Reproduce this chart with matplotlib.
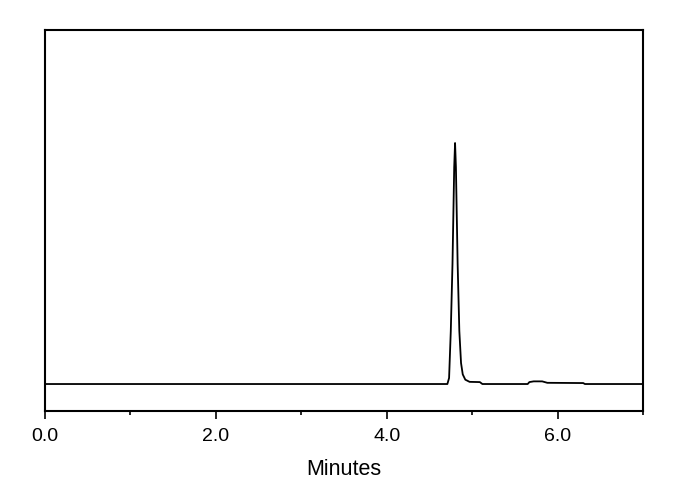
import matplotlib
matplotlib.use("Agg")
import matplotlib.pyplot as plt
from matplotlib.ticker import FixedLocator

# chromatogram trace (signal scaled so peak = 100)
time_min = [0.0, 4.71, 4.73, 4.75, 4.77, 4.79, 4.80, 4.81, 4.83, 4.85, 4.87,
            4.89, 4.92, 4.97, 5.09, 5.12, 5.65, 5.67, 5.72, 5.82, 5.88, 6.30,
            6.32, 7.0]
signal = [0.0, 0.0, 2.5, 22.0, 50.0, 90.0, 100.0, 90.0, 50.0, 22.0, 8.7,
          4.0, 1.8, 0.9, 0.8, 0.0, 0.0, 0.8, 1.1, 1.1, 0.5, 0.4,
          0.0, 0.0]

major_ticks = [0, 2, 4, 6]
minor_ticks = [1, 3, 5, 7]
tick_labels = ["0.0", "2.0", "4.0", "6.0"]

plt.rcParams['font.family'] = ['Liberation Sans', 'DejaVu Sans']

fig = plt.figure(figsize=(6.9, 4.9), dpi=100)
ax = fig.add_axes([0.0652, 0.1612, 0.8667, 0.7776])

ax.plot(time_min, signal, color="black", linewidth=1.3)

ax.set_xlim(0, 7)
ax.set_ylim(-11.2, 146.9)

ax.xaxis.set_major_locator(FixedLocator(major_ticks))
ax.set_xticklabels(tick_labels)
ax.xaxis.set_minor_locator(FixedLocator(minor_ticks))
ax.tick_params(axis="x", which="major", direction="out", length=5.5, width=1.2,
               labelsize=14, pad=6.5)
ax.tick_params(axis="x", which="minor", direction="out", length=3, width=1.2)
ax.set_yticks([])

for s in ax.spines.values():
    s.set_linewidth(1.5)

ax.set_xlabel("Minutes", fontsize=15.5, labelpad=10)

fig.savefig("out.png", dpi=100)
